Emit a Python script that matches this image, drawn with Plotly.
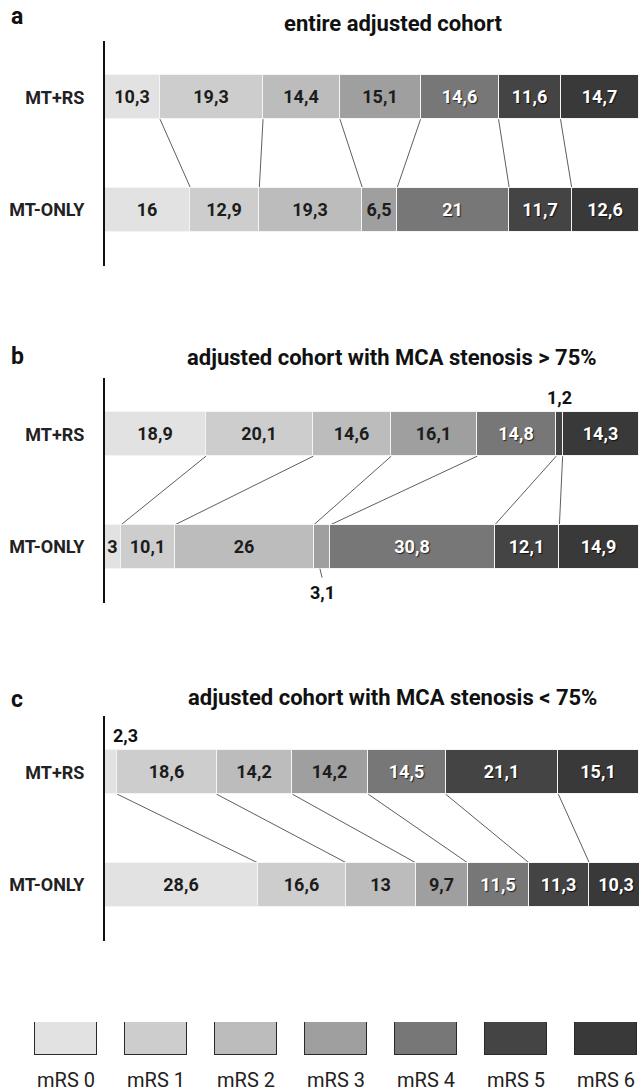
import plotly.graph_objects as go
import numpy as np

categories = ["mRS 0", "mRS 1", "mRS 2", "mRS 3", "mRS 4", "mRS 5", "mRS 6"]
groups = ["MT+RS", "MT-ONLY"]
panel_letters = ["a", "b", "c"]
panel_titles = ["entire adjusted cohort",
                "adjusted cohort with MCA stenosis > 75%",
                "adjusted cohort with MCA stenosis < 75%"]

a_rs = [10.3, 19.3, 14.4, 15.1, 14.6, 11.6, 14.7]
a_only = [16, 12.9, 19.3, 6.5, 21, 11.7, 12.6]
b_rs = [18.9, 20.1, 14.6, 16.1, 14.8, 1.2, 14.3]
b_only = [3, 10.1, 26, 3.1, 30.8, 12.1, 14.9]
c_rs = [2.3, 18.6, 14.2, 14.2, 14.5, 21.1, 15.1]
c_only = [28.6, 16.6, 13, 9.7, 11.5, 11.3, 10.3]

colors = ["#e2e2e2", "#cdcdcd", "#bcbcbc", "#9f9f9f", "#777777", "#444444", "#393939"]
text_colors = ["#1c1c1c", "#1c1c1c", "#1c1c1c", "#1c1c1c", "#ffffff", "#ffffff", "#ffffff"]
text_shadows = ["none", "none", "none", "none",
                "1px 1px 1px #222", "1px 1px 1px #111", "1px 1px 1px #111"]

panels = [(a_rs, a_only), (b_rs, b_only), (c_rs, c_only)]
# small segments labelled outside the bar: (panel, row 0=MT+RS/1=MT-ONLY, category index, where)
outside = [(1, 0, 5, "above"), (1, 1, 3, "below"), (2, 0, 0, "above")]

W, H = 640, 1091
FONT = "Roboto"
BW = 0.39


def fmt(v):
    return f"{v:g}".replace(".", ",")


def py(px):
    return 1 - px / H


# panel axis pixel extents (top, bottom)
panel_px = [(41, 266), (378, 603), (716, 941)]
x_dom = [105 / W, 639 / W]

fig = go.Figure()
shapes = []
annotations = []

for p, (rs, only) in enumerate(panels):
    xa = "x" if p == 0 else f"x{p + 1}"
    ya = "y" if p == 0 else f"y{p + 1}"
    for k in range(len(categories)):
        vals = [rs[k], only[k]]
        texts = [fmt(rs[k]), fmt(only[k])]
        for (pp, row, kk, where) in outside:
            if pp == p and kk == k:
                texts[row] = ""
        fig.add_trace(go.Bar(
            x=vals, y=[1, 0], orientation="h", width=BW,
            marker=dict(color=colors[k], line=dict(color="#f4f4f4", width=1)),
            text=texts, textposition="inside", insidetextanchor="middle",
            textangle=0, constraintext="none",
            textfont=dict(family=FONT, size=18, color=text_colors[k], weight="bold",
                          shadow=text_shadows[k]),
            name=categories[k], showlegend=False, hoverinfo="skip",
            xaxis=xa, yaxis=ya, cliponaxis=True,
        ))
    # connectors between boundaries
    cr = np.cumsum(rs)
    co = np.cumsum(only)
    for k in range(len(categories) - 1):
        shapes.append(dict(type="line", xref=xa, yref=ya,
                           x0=cr[k], y0=1 - BW / 2, x1=co[k], y1=BW / 2,
                           line=dict(color="#5e5e5e", width=1), layer="below"))
    # outside labels
    for (pp, row, kk, where) in outside:
        if pp != p:
            continue
        vals = rs if row == 0 else only
        cum = np.cumsum(vals)
        xc = cum[kk] - vals[kk] / 2
        yc = 1 - row
        if where == "above":
            annotations.append(dict(xref=xa, yref=ya, x=xc, y=yc + BW / 2 + 0.13,
                                    text=fmt(vals[kk]), showarrow=False,
                                    xanchor="left" if kk == 0 else "center", yanchor="middle",
                                    font=dict(family=FONT, size=18, color="#111", weight="bold")))
        else:
            shapes.append(dict(type="line", xref=xa, yref=ya,
                               x0=xc - 0.4, y0=yc - BW / 2, x1=xc, y1=yc - BW / 2 - 0.08,
                               line=dict(color="#5e5e5e", width=1)))
            annotations.append(dict(xref=xa, yref=ya, x=xc, y=yc - BW / 2 - 0.21,
                                    text=fmt(vals[kk]), showarrow=False,
                                    xanchor="center", yanchor="middle",
                                    font=dict(family=FONT, size=18, color="#111", weight="bold")))
    top, bot = panel_px[p]
    fig.layout[f"xaxis{'' if p == 0 else p + 1}"] = dict(
        domain=x_dom, range=[0, 100], visible=False, anchor=ya, fixedrange=True)
    fig.layout[f"yaxis{'' if p == 0 else p + 1}"] = dict(
        domain=[py(bot), py(top)], range=[-0.5, 1.5], anchor=xa,
        showline=True, linecolor="#111", linewidth=2, showgrid=False, zeroline=False,
        tickvals=[1, 0], ticktext=groups, ticks="", ticklabelstandoff=15,
        tickfont=dict(family=FONT, size=18, color="#222", weight="bold"), fixedrange=True)

# panel letters and titles
letter_y = [17, 356, 699]
title_y = [23, 357, 697]
title_x = [393, 392, 392]
for p in range(3):
    annotations.append(dict(xref="paper", yref="paper", x=9 / W, y=py(letter_y[p]),
                            text=panel_letters[p], showarrow=False,
                            xanchor="left", yanchor="middle",
                            font=dict(family=FONT, size=23, color="#111", weight="bold")))
    annotations.append(dict(xref="paper", yref="paper", x=title_x[p] / W, y=py(title_y[p]),
                            text=panel_titles[p], showarrow=False,
                            xanchor="center", yanchor="middle",
                            font=dict(family=FONT, size=22, color="#111", weight="bold")))

# legend as its own axis of boxes
fig.add_trace(go.Bar(
    x=categories, y=[1] * len(categories), width=0.69,
    marker=dict(color=colors, line=dict(color="#2a2a2a", width=1.5)),
    showlegend=False, hoverinfo="skip", xaxis="x4", yaxis="y4",
))
fig.layout.xaxis4 = dict(domain=[0, 1], range=[-66 / 90, (W - 66) / 90], anchor="y4",
                         showline=False, showgrid=False, zeroline=False, ticks="",
                         ticklabelstandoff=11,
                         tickfont=dict(family=FONT, size=20, color="#222"), fixedrange=True)
fig.layout.yaxis4 = dict(domain=[py(1055), py(1022)], range=[0, 1.0], anchor="x4",
                         visible=False, fixedrange=True)

fig.update_layout(
    width=W, height=H, margin=dict(l=0, r=0, t=0, b=0),
    paper_bgcolor="white", plot_bgcolor="white",
    barmode="stack", bargap=0,
    uniformtext=dict(minsize=18, mode="show"),
    shapes=shapes, annotations=annotations,
)

fig.write_html("out.html", config={"displayModeBar": False},
               post_script="document.body.style.margin='0';document.body.style.overflow='hidden';")
